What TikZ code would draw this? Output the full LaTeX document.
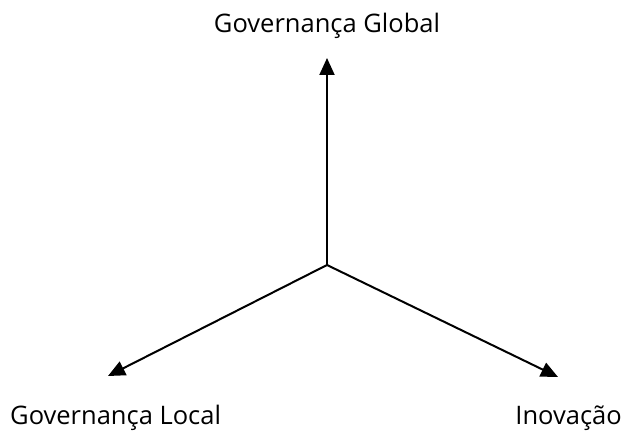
\documentclass[tikz,border=0pt]{standalone}
\usepackage{fontspec}
\setmainfont{Open Sans}
\usetikzlibrary{arrows.meta}
\begin{document}
\begin{tikzpicture}[x=1pt,y=-1pt,
  axis/.style={line width=2pt,-{Triangle[width=15pt,length=17pt]}},
  label/.style={inner sep=0pt,font=\fontsize{25.5}{28}\selectfont}]
\useasboundingbox (0,0) rectangle (628,433);
\coordinate (o) at (327,265);
\coordinate (up) at (327,58);
\coordinate (left) at (108,376);
\coordinate (right) at (558,377);
\draw[axis] (o) -- (up);
\draw[axis] (o) -- (left);
\draw[axis] (o) -- (right);
\node[label,anchor=base] (global) at (327,33) {Governança Global};
\node[label,anchor=base west] (local) at (10,424) {Governança Local};
\node[label,anchor=base east] (inov) at (622,424) {Inovação};
\end{tikzpicture}
\end{document}
